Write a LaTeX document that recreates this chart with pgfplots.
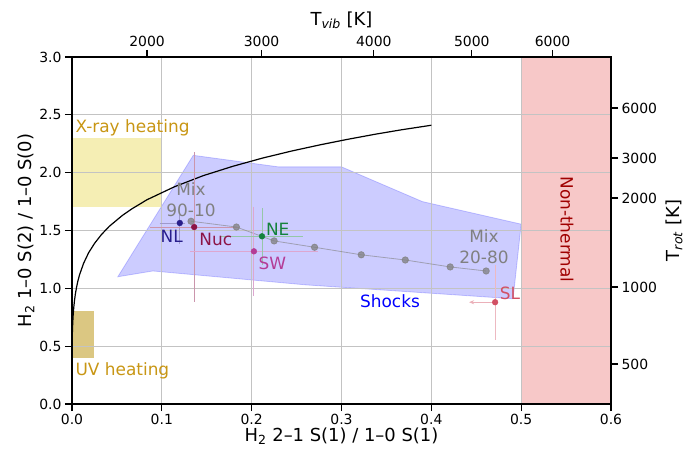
\documentclass[border=0pt]{standalone}
\usepackage{fontspec}
\setmainfont{DejaVu Sans}
\usepackage{pgfplots}
\pgfplotsset{compat=1.18}
\usetikzlibrary{arrows.meta}

\definecolor{ntfill}{RGB}{247,200,200}
\definecolor{ntedge}{RGB}{230,150,150}
\definecolor{nttext}{RGB}{160,0,0}
\definecolor{xray}{RGB}{245,238,180}
\definecolor{uvc}{RGB}{219,199,130}
\definecolor{heat}{RGB}{200,150,20}
\definecolor{mixc}{RGB}{128,128,128}
\definecolor{nlc}{RGB}{40,30,140}
\definecolor{nucc}{RGB}{140,20,70}
\definecolor{nec}{RGB}{20,130,60}
\definecolor{swc}{RGB}{180,60,150}
\definecolor{slc}{RGB}{210,80,100}
\definecolor{gridc}{RGB}{195,195,195}

\tikzset{ann/.style={font=\fontsize{17}{21}\selectfont}}
\pgfplotsset{
  base/.style={width=539bp, height=347bp, scale only axis,
    xmin=0, xmax=0.6, ymin=0, ymax=3},
  pt/.style={only marks, mark=*, mark size=2.9bp, color=#1,
    error bars/.cd, x dir=both, x explicit, y dir=both, y explicit,
    error bar style={color=#1!45, line width=0.9bp},
    error mark options={color=#1!45, mark size=3bp, line width=0.9bp}},
}

\begin{document}
\begin{tikzpicture}
% shaded regions
\begin{axis}[base, hide axis]
\addplot[fill=ntfill, draw=ntedge, line width=0.8bp] coordinates {(0.5,0) (0.6,0) (0.6,3) (0.5,3)} -- cycle;
\addplot[fill=xray, draw=none] coordinates {(0,1.7) (0.1,1.7) (0.1,2.3) (0,2.3)} -- cycle;
\addplot[fill=uvc, draw=none] coordinates {(0,0.4) (0.025,0.4) (0.025,0.8) (0,0.8)} -- cycle;
\addplot[fill=blue, fill opacity=0.2, draw=blue, draw opacity=0.2, line width=0.8bp] coordinates {
  (0.051,1.10) (0.135,2.15) (0.23,2.05) (0.30,2.05) (0.39,1.75) (0.50,1.555)
  (0.491,0.91) (0.26,1.03) (0.09,1.15)} -- cycle;
\end{axis}

% main axis
\begin{axis}[base, name=main,
  axis line style={black, line width=1.6bp},
  tick align=outside, major tick length=7bp,
  every tick/.style={black, line width=1.3bp},
  xtick pos=left, ytick pos=left,
  xtick={0,0.1,0.2,0.3,0.4,0.5,0.6},
  xticklabels={0.0,0.1,0.2,0.3,0.4,0.5,0.6},
  ytick={0,0.5,1,1.5,2,2.5,3},
  yticklabels={0.0,0.5,1.0,1.5,2.0,2.5,3.0},
  grid=major, grid style={gridc, line width=0.8bp},
  ticklabel style={font=\fontsize{14}{16}\selectfont},
  label style={font=\fontsize{18}{20}\selectfont},
  xlabel={H\textsubscript{2} 2–1 S(1) / 1–0 S(1)},
  ylabel={H\textsubscript{2} 1–0 S(2) / 1–0 S(0)},
  xlabel style={yshift=4bp},
  ylabel style={yshift=-2bp},
]
% thermal curve
\addplot[black, line width=1.2bp, line join=round] coordinates {
  (0,0.0) (0,0.075) (0.00002,0.190) (0.00002,0.331) (0.00012,0.481) (0.00025,0.555)
  (0.00046,0.627) (0.00079,0.697) (0.00126,0.765) (0.0019,0.830) (0.00274,0.893)
  (0.0038,0.953) (0.0051,1.011) (0.00665,1.066) (0.00848,1.119) (0.01295,1.217)
  (0.01852,1.308) (0.0252,1.390) (0.0329,1.466) (0.0415,1.536) (0.056,1.630)
  (0.0666,1.687) (0.0835,1.766) (0.114,1.878) (0.146,1.974) (0.179,2.055)
  (0.212,2.126) (0.245,2.188) (0.277,2.242) (0.308,2.290) (0.338,2.333)
  (0.367,2.371) (0.40,2.41)};
% mixing line
\addplot[mixc, line width=0.8bp, draw opacity=0.6, mark=*, mark size=3.2bp,
  mark options={fill=mixc, draw=none, opacity=0.75}] coordinates {
  (0.1325,1.58) (0.183,1.53) (0.225,1.41) (0.27,1.355)
  (0.322,1.29) (0.371,1.245) (0.421,1.185) (0.461,1.15)};
% measurements
\addplot[pt=nlc] coordinates {(0.120,1.565) += (0.003,0.04) -= (0.019,0.16)};
\addplot[pt=nucc] coordinates {(0.136,1.53) +- (0.046,0.62)};
\addplot[pt=swc] coordinates {(0.2025,1.32) +- (0.068,0.36)};
\addplot[pt=nec] coordinates {(0.2115,1.45) +- (0.042,0.22)};
\addplot[only marks, mark=none, error bars/.cd, x dir=minus, x explicit,
  error bar style={color=slc!45, line width=0.9bp, -{Stealth[length=5bp,width=4bp]}},
  error mark=none] coordinates {(0.471,0.88) +- (0.029,0)};
\addplot[only marks, mark=*, mark size=2.9bp, color=slc, error bars/.cd, y dir=both, y explicit,
  error bar style={color=slc!40, line width=0.9bp},
  error mark options={color=slc!40, mark size=3bp, line width=0.9bp}] coordinates {(0.471,0.88) +- (0,0.30)};
% labels
\node[ann, color=heat, anchor=west] at (axis cs:0.0,2.39) {X-ray heating};
\node[ann, color=heat, anchor=west] at (axis cs:0.0,0.29) {UV heating};
\node[ann, color=nttext, rotate=-90] at (axis cs:0.551,1.51) {Non-thermal};
\node[ann, color=blue] at (axis cs:0.354,0.89) {Shocks};
\node[ann, color=mixc, align=center] at (axis cs:0.1325,1.77) {Mix\\90-10};
\node[ann, color=mixc, align=center] at (axis cs:0.4586,1.36) {Mix\\20-80};
\node[ann, color=nlc] at (axis cs:0.111,1.45) {NL};
\node[ann, color=nucc] at (axis cs:0.160,1.42) {Nuc};
\node[ann, color=nec] at (axis cs:0.229,1.51) {NE};
\node[ann, color=swc] at (axis cs:0.223,1.22) {SW};
\node[ann, color=slc] at (axis cs:0.4876,0.96) {SL};
\end{axis}

% temperature axes
\begin{axis}[base,
  axis x line*=top, axis y line*=right,
  axis line style={black, line width=1.6bp},
  tick align=outside, major tick length=7bp,
  every tick/.style={black, line width=1.3bp},
  xtick={0.0835,0.211,0.336,0.445,0.535},
  xticklabels={2000,3000,4000,5000,6000},
  ytick={0.346,1.011,1.78,2.126,2.558},
  yticklabels={500,1000,2000,3000,6000},
  ticklabel style={font=\fontsize{14}{16}\selectfont},
  label style={font=\fontsize{18}{20}\selectfont},
  xlabel={T\textsubscript{\textit{vib}} [K]},
  ylabel={T\textsubscript{\textit{rot}} [K]},
  ylabel style={yshift=-2bp},
]
\end{axis}
\pgfresetboundingbox
\path ([xshift=-72bp,yshift=-48bp]main.south west) rectangle ([xshift=80bp,yshift=57bp]main.north east);
\end{tikzpicture}
\end{document}
